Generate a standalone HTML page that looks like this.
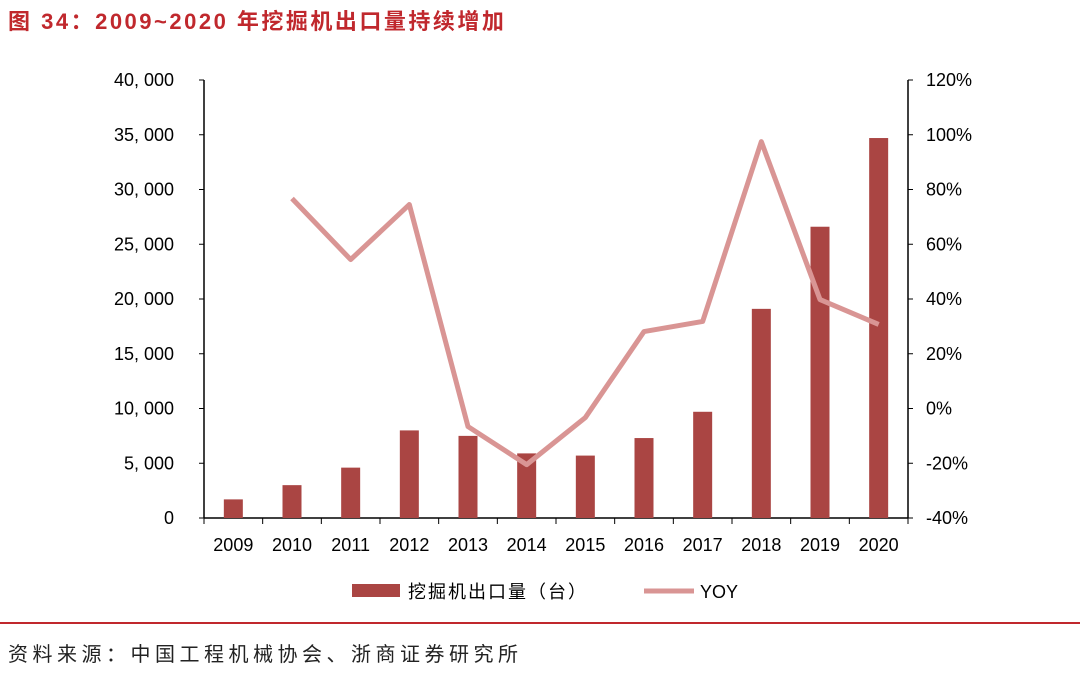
<!DOCTYPE html>
<html><head><meta charset="utf-8">
<style>
body{margin:0;background:#fff;width:1080px;height:674px;overflow:hidden;font-family:"Liberation Sans","Noto Sans CJK SC",sans-serif;}
#title{position:absolute;left:8px;top:4px;font-size:22px;font-weight:bold;color:#C0282D;letter-spacing:2.5px;}
#hr{position:absolute;left:0;top:622px;width:1080px;height:2px;background:#C0282D;}
#src{position:absolute;left:8px;top:638px;font-size:20px;color:#222;letter-spacing:4.5px;}
svg{position:absolute;left:0;top:0}
</style></head><body>
<div id="title">图 34：2009~2020 年挖掘机出口量持续增加</div>
<svg id="chart" width="1080" height="674"></svg>
<div id="hr"></div>
<div id="src">资料来源：中国工程机械协会、浙商证券研究所</div>
<script>
const categories=["2009","2010","2011","2012","2013","2014","2015","2016","2017","2018","2019","2020"];
const exports=[1700,3000,4600,8000,7500,5900,5700,7300,9700,19100,26600,34700];
const yoy=[null,76.7,54.4,74.5,-6.6,-20.5,-3.3,28.1,31.8,97.5,39.8,30.7];
const leftTicks=[0,5000,10000,15000,20000,25000,30000,35000,40000];
const rightTicks=[-40,-20,0,20,40,60,80,100,120];
const NS="http://www.w3.org/2000/svg";
const svg=document.getElementById('chart');
const X0=204,X1=908,Y0=518,Y1=80;
const bw=(X1-X0)/categories.length;
const xc=i=>X0+bw*(i+0.5);
const yL=v=>Y0-(v/40000)*(Y0-Y1);
const yR=v=>Y0-((v+40)/160)*(Y0-Y1);
function mk(t,a){const e=document.createElementNS(NS,t);for(const k in a)e.setAttribute(k,a[k]);svg.appendChild(e);return e;}
let a=mk('line',{x1:X0,y1:Y1,x2:X0,y2:Y0,stroke:'#000','stroke-width':1.5});

a=mk('line',{x1:X1,y1:Y1,x2:X1,y2:Y0,stroke:'#000','stroke-width':1.5});

a=mk('line',{x1:X0,y1:Y0,x2:X1,y2:Y0,stroke:'#000','stroke-width':1.5});

leftTicks.forEach(v=>{const y=yL(v);mk('line',{x1:X0-5,y1:y,x2:X0,y2:y,stroke:'#000'});
 const t=mk('text',{x:174,y:y+6,'text-anchor':'end','font-size':18,fill:'#000'});t.textContent=v===0?"0":(v/1000)+", 000";
 });
rightTicks.forEach(v=>{const y=yR(v);mk('line',{x1:X1,y1:y,x2:X1+5,y2:y,stroke:'#000'});
 const t=mk('text',{x:926,y:y+6,'font-size':18,fill:'#000'});t.textContent=v+"%";
 });
for(let i=0;i<=categories.length;i++){mk('line',{x1:X0+bw*i,y1:Y0,x2:X0+bw*i,y2:Y0+6,stroke:'#000'});}
categories.forEach((c,i)=>{const t=mk('text',{x:xc(i),y:551,'text-anchor':'middle','font-size':18,fill:'#000'});t.textContent=c;
 });
exports.forEach((v,i)=>{const r=mk('rect',{x:xc(i)-9.5,y:yL(v),width:19,height:Y0-yL(v),fill:'#AA4543'});
 });
let d="";yoy.forEach((v,i)=>{if(v===null)return;d+=(d?"L":"M")+xc(i)+","+yR(v);});
const p=mk('path',{d:d,fill:'none',stroke:'#D99594','stroke-width':5,'stroke-linejoin':'round'});

let l=mk('rect',{x:352,y:584,width:48,height:13,fill:'#AA4543'});

let lt=mk('text',{x:408,y:598,'font-size':18,fill:'#000','letter-spacing':2});lt.textContent="挖掘机出口量（台）";

l=mk('line',{x1:644,y1:591,x2:694,y2:591,stroke:'#D99594','stroke-width':5});

lt=mk('text',{x:700,y:598,'font-size':18,fill:'#000'});lt.textContent="YOY";

</script>
</body></html>
